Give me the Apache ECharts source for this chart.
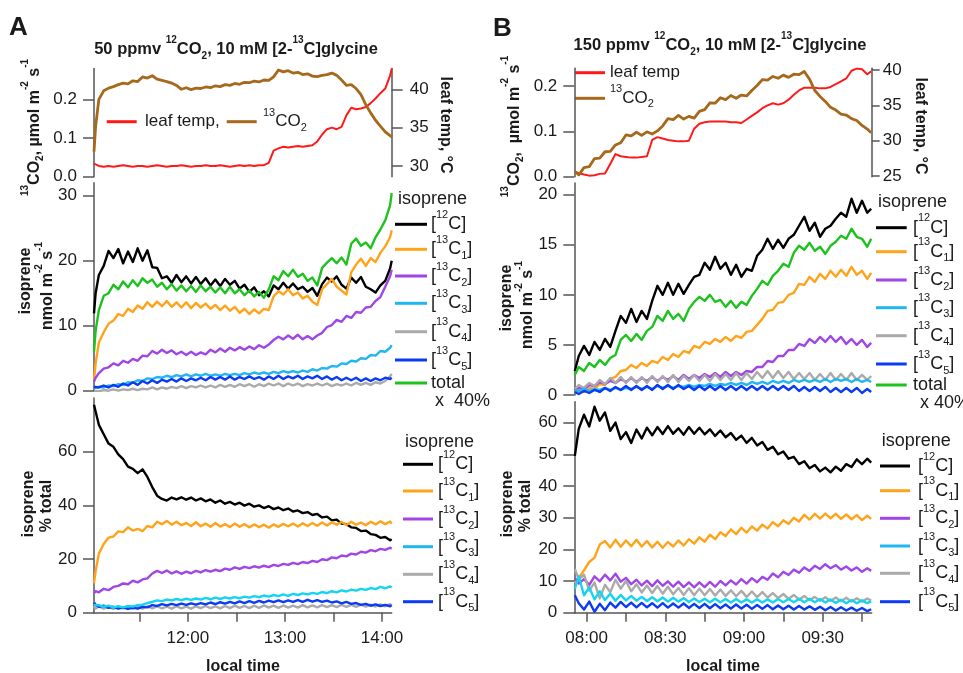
<!DOCTYPE html>
<html>
<head>
<meta charset="utf-8">
<script src="https://cdn.jsdelivr.net/npm/echarts@6.0.0/dist/echarts.min.js"></script>
<style>
  html, body { margin: 0; padding: 0; background: #ffffff; }
  #chart { width: 963px; height: 673px; }
</style>
</head>
<body>
<div id="chart"></div>
<script>
// ---------- Panel A: 50 ppmv 12CO2, local time in minutes after midnight ----------
const timeA = [
  662, 663, 665, 668, 671, 674, 677, 680,
  683, 686, 689, 692, 695, 698, 701, 704,
  707, 710, 713, 716, 719, 722, 725, 728,
  731, 734, 737, 740, 743, 746, 749, 752,
  755, 758, 761, 764, 767, 770, 773, 776,
  779, 782, 785, 788, 791, 794, 797, 800,
  803, 806, 809, 812, 815, 818, 821, 824,
  827, 830, 833, 836, 839, 842, 845, 846
];
const co2A = [
  0.065, 0.130, 0.200, 0.222, 0.229, 0.233, 0.238, 0.242,
  0.240, 0.248, 0.246, 0.258, 0.255, 0.261, 0.252, 0.249,
  0.246, 0.242, 0.236, 0.226, 0.230, 0.225, 0.229, 0.228,
  0.232, 0.230, 0.235, 0.233, 0.238, 0.236, 0.241, 0.239,
  0.244, 0.243, 0.247, 0.245, 0.250, 0.249, 0.258, 0.276,
  0.271, 0.274, 0.268, 0.270, 0.264, 0.266, 0.260, 0.259,
  0.262, 0.264, 0.268, 0.262, 0.250, 0.236, 0.238, 0.228,
  0.212, 0.186, 0.165, 0.146, 0.131, 0.116, 0.106, 0.103
];
const leafA = [
  30.3, 30.1, 30.0, 29.9, 30.0, 29.9, 30.0, 30.1,
  30.0, 29.9, 30.0, 30.0, 29.9, 30.0, 30.1, 30.0,
  29.9, 30.0, 30.0, 30.1, 30.0, 29.9, 30.0, 30.0,
  30.1, 30.0, 30.0, 30.1, 30.0, 29.9, 30.0, 30.1,
  30.0, 30.1, 30.0, 30.1, 30.1, 30.4, 32.0, 32.3,
  32.5, 32.4, 32.5, 32.6, 32.5, 32.6, 32.7, 33.2,
  34.1, 34.8, 35.0, 34.8, 35.1, 36.6, 37.6, 37.4,
  37.5, 37.7, 38.2, 38.8, 39.5, 40.1, 41.8, 42.7
];
// isoprene emission, nmol m-2 s-1
const isoA_12C = [
  11.9, 15.0, 17.8, 19.2, 21.5, 20.4, 21.8, 19.6,
  21.4, 19.8, 21.9, 20.0, 21.6, 19.0, 18.9, 17.3,
  17.6, 16.6, 17.8, 16.7, 17.6, 16.5, 17.5, 16.4,
  17.3, 16.2, 17.1, 16.1, 17.2, 16.3, 16.9, 15.7,
  16.3, 15.2, 15.9, 14.7, 15.3, 14.5, 16.2, 15.6,
  16.6, 15.7, 16.5, 15.6, 16.0, 15.2, 15.8, 14.6,
  16.4, 17.4, 16.8, 17.6, 16.3, 15.7, 17.4, 16.6,
  17.5, 16.0, 15.6, 15.1, 16.2, 16.9, 18.8, 20.0
];
const isoA_13C1 = [
  1.6, 4.2, 7.4, 9.0, 10.3, 10.8, 11.8, 11.5,
  12.6, 12.1, 13.1, 12.6, 13.6, 12.9, 13.7, 13.0,
  13.8, 12.9, 13.6, 12.8, 13.6, 12.7, 13.5, 12.8,
  13.4, 12.6, 13.2, 12.4, 13.1, 12.3, 12.9, 12.0,
  12.6, 11.8, 12.5, 11.9, 12.6, 12.4, 14.5, 15.3,
  14.8, 15.6, 14.7, 15.1, 14.2, 14.6, 13.7, 13.2,
  15.6, 16.4, 17.2, 16.0, 15.4, 14.8, 18.2, 19.4,
  20.3, 19.2, 20.4, 19.8, 21.2, 22.2, 23.6, 24.7
];
const isoA_13C2 = [
  1.4, 2.0, 2.7, 3.4, 3.6, 4.2, 3.9, 4.6,
  4.3, 4.9, 4.6, 5.4, 5.3, 6.1, 5.7, 6.3,
  5.8, 6.2, 5.6, 6.0, 5.5, 6.0, 5.5, 5.9,
  5.6, 6.3, 5.9, 6.5, 6.0, 6.6, 6.2, 6.7,
  6.3, 6.8, 6.4, 7.0, 6.6, 7.1, 7.8, 8.3,
  7.9, 8.5, 8.0, 8.6, 7.9, 8.4, 7.9, 8.5,
  8.9, 9.8, 10.1, 10.9, 10.6, 11.5, 11.2, 12.1,
  12.0, 12.8, 12.9, 13.8, 14.4, 16.0, 17.6, 18.6
];
const isoA_13C3 = [
  0.4, 0.5, 0.6, 0.5, 0.8, 0.7, 1.0, 0.9,
  1.3, 1.2, 1.6, 1.5, 1.9, 1.8, 2.1, 2.0,
  2.3, 2.1, 2.4, 2.2, 2.5, 2.2, 2.5, 2.3,
  2.6, 2.3, 2.5, 2.3, 2.6, 2.4, 2.6, 2.4,
  2.7, 2.5, 2.8, 2.6, 2.8, 2.6, 2.9, 2.7,
  3.0, 2.8, 3.0, 2.8, 3.1, 2.9, 3.3, 3.1,
  3.5, 3.4, 3.8, 3.7, 4.2, 4.1, 4.6, 4.5,
  5.0, 4.9, 5.5, 5.4, 6.1, 6.0, 6.6, 7.0
];
const isoA_13C4 = [
  0.0, 0.1, -0.1, 0.1, 0.0, 0.2, 0.0, 0.2,
  0.1, 0.3, 0.1, 0.3, 0.2, 0.5, 0.2, 0.5,
  0.3, 0.6, 0.4, 0.7, 0.4, 0.7, 0.5, 0.8,
  0.5, 0.8, 0.5, 0.9, 0.6, 0.9, 0.6, 1.0,
  0.7, 1.0, 0.6, 1.0, 0.7, 1.1, 0.8, 1.1,
  0.7, 1.1, 0.8, 1.1, 0.7, 1.0, 0.8, 1.1,
  0.8, 1.1, 0.7, 1.0, 0.8, 1.1, 0.8, 1.2,
  0.9, 1.2, 0.9, 1.3, 1.1, 1.5, 2.2, 2.6
];
const isoA_13C5 = [
  0.6, 0.9, 0.5, 0.8, 0.5, 0.9, 0.6, 1.1,
  0.8, 1.3, 0.9, 1.5, 1.1, 1.6, 1.2, 1.7,
  1.4, 1.8, 1.4, 1.9, 1.5, 1.9, 1.6, 2.0,
  1.6, 2.1, 1.7, 2.1, 1.7, 2.2, 1.7, 2.1,
  1.8, 2.2, 1.8, 2.1, 1.7, 2.2, 1.8, 2.3,
  1.8, 2.2, 1.9, 2.3, 1.8, 2.2, 1.9, 2.3,
  1.8, 2.2, 1.7, 2.1, 1.6, 2.0, 1.6, 2.0,
  1.5, 1.9, 1.5, 1.9, 1.6, 2.0, 1.8, 2.0
];
const isoA_total40 = [
  6.0, 9.2, 12.4, 14.6, 15.0, 16.3, 15.6, 16.8,
  15.9, 17.0, 16.1, 17.3, 16.6, 17.1, 16.0, 16.6,
  15.6, 16.4, 15.4, 16.2, 15.3, 16.1, 15.2, 16.2,
  15.3, 16.0, 15.1, 15.9, 15.0, 16.0, 15.0, 15.6,
  14.7, 15.4, 14.5, 15.2, 14.3, 15.6, 17.6, 17.0,
  18.4, 17.6, 18.6, 17.5, 18.0, 16.9, 17.4, 16.2,
  18.9, 19.7, 20.4, 19.6, 20.5, 19.4, 22.6, 23.4,
  22.3, 22.8, 21.9, 23.6, 24.8, 26.2, 28.5, 30.4
];
// isotopologue share of total isoprene, %
const pctA_12C = [
  77.5, 75.0, 70.0, 66.5, 63.0, 61.8, 59.0, 57.2,
  54.4, 53.6, 52.0, 53.4, 50.6, 46.8, 43.6, 42.4,
  41.8, 42.9, 42.2, 43.0, 42.1, 42.9, 41.8, 42.6,
  41.5, 42.2, 41.0, 41.8, 40.6, 41.3, 40.3, 41.0,
  39.9, 40.6, 39.5, 40.0, 39.0, 39.7, 38.6, 39.2,
  38.2, 38.8, 37.7, 38.1, 37.1, 37.5, 36.4, 36.8,
  35.5, 35.8, 34.4, 34.7, 33.2, 33.0, 31.8, 31.6,
  30.4, 30.6, 29.3, 29.0, 27.9, 28.2, 27.0, 27.4
];
const pctA_13C1 = [
  10.9, 15.5, 22.0, 25.6, 28.0, 28.4, 30.3, 30.0,
  31.8, 30.6, 31.2, 30.4, 32.3, 31.8, 33.9, 33.0,
  34.2, 32.8, 33.9, 32.6, 33.4, 32.3, 33.7, 32.2,
  33.2, 32.0, 33.4, 32.1, 33.0, 31.9, 33.2, 32.0,
  33.0, 31.8, 32.9, 31.9, 32.8, 31.7, 32.9, 32.0,
  33.1, 32.2, 33.2, 32.1, 33.3, 32.3, 33.4, 32.4,
  33.6, 32.5, 33.7, 32.8, 33.8, 32.7, 33.9, 32.8,
  33.6, 32.6, 33.9, 32.9, 34.1, 33.0, 34.0, 33.2
];
const pctA_13C2 = [
  7.2, 8.0, 7.6, 8.9, 8.4, 9.6, 10.0, 10.9,
  10.6, 11.9, 11.3, 12.4, 12.8, 14.6, 15.6, 14.8,
  15.7, 14.6, 15.4, 14.5, 15.3, 14.7, 15.6, 15.0,
  15.9, 15.3, 16.0, 15.5, 16.4, 16.0, 16.9, 16.3,
  17.1, 16.6, 17.3, 16.8, 17.5, 17.0, 17.8, 17.4,
  18.2, 17.8, 18.6, 18.1, 18.9, 18.5, 19.3, 18.9,
  19.9, 19.6, 20.6, 20.3, 21.3, 21.0, 22.0, 21.7,
  22.7, 22.4, 23.3, 22.9, 23.8, 23.4, 24.2, 23.8
];
const pctA_13C3 = [
  2.9, 2.5, 2.8, 2.2, 2.6, 2.0, 2.4, 2.0,
  2.5, 2.3, 2.8, 3.0, 3.6, 4.0, 4.6, 4.3,
  4.9, 4.6, 5.1, 4.7, 5.2, 4.8, 5.3, 4.9,
  5.5, 5.0, 5.6, 5.1, 5.7, 5.3, 5.8, 5.4,
  6.0, 5.6, 6.2, 5.8, 6.4, 6.0, 6.6, 6.2,
  6.8, 6.3, 7.0, 6.6, 7.2, 6.8, 7.4, 7.0,
  7.7, 7.3, 8.0, 7.6, 8.3, 7.9, 8.6, 8.2,
  8.9, 8.5, 9.2, 8.8, 9.6, 9.1, 9.8, 9.4
];
const pctA_13C4 = [
  2.4, 1.6, 2.3, 1.5, 2.2, 1.4, 2.3, 1.5,
  2.2, 1.4, 2.3, 1.5, 2.4, 1.6, 2.4, 1.6,
  2.3, 1.5, 2.4, 1.6, 2.3, 1.5, 2.4, 1.7,
  2.5, 1.7, 2.4, 1.6, 2.5, 1.7, 2.6, 1.8,
  2.5, 1.7, 2.6, 1.8, 2.7, 1.9, 2.6, 1.8,
  2.7, 1.9, 2.6, 1.9, 2.8, 2.0, 2.7, 2.0,
  2.8, 2.1, 2.8, 2.1, 2.9, 2.2, 2.9, 2.2,
  3.0, 2.3, 3.0, 2.3, 3.1, 2.4, 3.2, 2.6
];
const pctA_13C5 = [
  3.8, 3.0, 2.2, 2.6, 1.8, 2.2, 1.5, 2.0,
  1.4, 1.9, 1.5, 2.2, 2.0, 2.8, 2.5, 3.2,
  2.7, 3.3, 2.8, 3.4, 2.9, 3.5, 3.0, 3.6,
  3.1, 3.8, 3.2, 3.9, 3.4, 4.0, 3.5, 4.2,
  3.6, 4.3, 3.7, 4.4, 3.8, 4.5, 3.9, 4.6,
  3.9, 4.6, 4.0, 4.7, 4.0, 4.8, 4.1, 4.7,
  4.0, 4.5, 3.8, 4.2, 3.5, 4.0, 3.3, 3.6,
  2.9, 3.3, 2.6, 3.1, 2.5, 2.9, 2.4, 2.8
];

// ---------- Panel B: 150 ppmv 12CO2 ----------
const timeB = [
  475.5, 477, 479, 481, 483, 485, 487, 489,
  491, 493, 495, 497, 499, 501, 503, 505,
  507, 509, 511, 513, 515, 517, 519, 521,
  523, 525, 527, 529, 531, 533, 535, 537,
  539, 541, 543, 545, 547, 549, 551, 553,
  555, 557, 559, 561, 563, 565, 567, 569,
  571, 573, 575, 577, 579, 581, 583, 585,
  587, 588.5
];
const co2B = [
  0.012, 0.004, 0.020, 0.022, 0.040, 0.041, 0.055, 0.056,
  0.070, 0.075, 0.092, 0.090, 0.098, 0.091, 0.099, 0.094,
  0.101, 0.112, 0.128, 0.126, 0.135, 0.127, 0.133, 0.129,
  0.144, 0.148, 0.163, 0.162, 0.174, 0.170, 0.179, 0.173,
  0.180, 0.178, 0.190, 0.201, 0.214, 0.213, 0.221, 0.217,
  0.224, 0.219, 0.226, 0.225, 0.232, 0.215, 0.190, 0.177,
  0.166, 0.153, 0.147, 0.138, 0.136, 0.128, 0.124, 0.113,
  0.105, 0.097
];
const leafB = [
  25.6, 25.4, 25.2, 25.05, 25.1, 25.3, 25.35, 26.7,
  28.1, 27.8, 27.7, 27.6, 27.6, 27.7, 27.8, 30.1,
  30.5, 30.3, 30.1, 30.0, 29.9, 29.9, 30.0, 31.7,
  32.4, 32.6, 32.7, 32.7, 32.7, 32.7, 32.6, 32.6,
  32.5, 33.0, 33.5, 34.0, 34.6, 35.0, 35.3, 35.1,
  35.3, 35.8, 36.5, 37.1, 37.5, 37.5, 37.5, 37.4,
  37.4, 37.6, 38.0, 38.4, 38.8, 39.9, 40.2, 40.1,
  39.4, 39.8
];
const isoB_12C = [
  2.4, 3.9, 4.9, 4.0, 5.3, 4.5, 5.6, 4.8,
  6.4, 7.9, 7.2, 8.6, 7.3, 8.4, 7.6, 9.4,
  10.9, 10.0, 11.2, 10.0, 11.1, 10.1, 11.0, 11.8,
  12.0, 13.2, 12.5, 13.8, 12.6, 13.2, 12.0, 13.0,
  11.8, 12.6, 12.4, 13.9, 14.5, 15.6, 14.6, 15.5,
  14.7, 15.6, 16.0, 16.9, 17.8, 16.4, 17.2, 15.8,
  16.6, 16.9, 17.6, 18.2, 17.8, 19.6, 18.2, 19.4,
  18.2, 18.6
];
const isoB_13C1 = [
  0.2, 0.4, 0.3, 0.7, 0.6, 1.1, 1.0, 1.6,
  1.8, 2.4, 2.5, 3.0, 2.7, 3.2, 2.9, 3.4,
  3.2, 3.8, 3.5, 4.1, 3.8, 4.4, 4.2, 4.9,
  4.7, 5.3, 5.1, 5.6, 5.3, 5.8, 5.4, 5.9,
  5.7, 6.3, 6.4, 7.0, 7.6, 8.4, 8.5, 9.2,
  9.3, 10.0, 10.2, 11.1, 11.0, 11.8, 11.3, 12.1,
  11.6, 12.4, 11.8, 12.5, 11.9, 12.8, 12.0, 12.4,
  11.6, 12.2
];
const isoB_13C2 = [
  0.5, 0.7, 0.6, 1.0, 0.9, 1.3, 1.1, 1.4,
  1.2, 1.6, 1.3, 1.7, 1.3, 1.7, 1.4, 1.8,
  1.4, 1.8, 1.5, 1.9, 1.5, 2.0, 1.6, 2.0,
  1.7, 2.1, 1.8, 2.2, 1.8, 2.3, 1.9, 2.3,
  2.0, 2.4, 2.3, 2.8, 2.8, 3.4, 3.3, 3.9,
  3.9, 4.5, 4.5, 5.1, 4.9, 5.6, 5.2, 5.8,
  5.3, 5.9, 5.3, 5.8, 5.1, 5.6, 5.0, 5.5,
  4.8, 5.2
];
const isoB_13C3 = [
  0.5, 0.4, 0.6, 0.4, 0.6, 0.5, 0.7, 0.5,
  0.7, 0.5, 0.7, 0.6, 0.8, 0.6, 0.8, 0.6,
  0.9, 0.7, 0.9, 0.7, 0.9, 0.8, 1.0, 0.8,
  1.0, 0.9, 1.1, 0.9, 1.1, 1.0, 1.2, 1.0,
  1.2, 1.0, 1.3, 1.1, 1.3, 1.1, 1.4, 1.2,
  1.4, 1.2, 1.5, 1.3, 1.5, 1.3, 1.5, 1.3,
  1.6, 1.3, 1.6, 1.4, 1.6, 1.3, 1.6, 1.3,
  1.5, 1.3
];
const isoB_13C4 = [
  0.6, 1.0, 0.7, 1.2, 0.9, 1.5, 1.1, 1.7,
  1.2, 1.8, 1.2, 1.8, 1.2, 1.8, 1.2, 1.9,
  1.3, 1.9, 1.3, 2.0, 1.3, 1.9, 1.4, 2.0,
  1.4, 2.0, 1.4, 2.1, 1.5, 2.1, 1.5, 2.2,
  1.5, 2.2, 1.6, 2.3, 1.7, 2.4, 1.7, 2.4,
  1.7, 2.3, 1.6, 2.2, 1.6, 2.2, 1.5, 2.1,
  1.5, 2.2, 1.5, 2.1, 1.5, 2.2, 1.5, 2.0,
  1.5, 1.9
];
const isoB_13C5 = [
  0.3, 0.1, 0.4, 0.2, 0.5, 0.3, 0.7, 0.4,
  0.8, 0.5, 0.9, 0.5, 0.9, 0.5, 0.9, 0.5,
  1.0, 0.6, 1.0, 0.6, 1.0, 0.6, 0.9, 0.5,
  0.9, 0.5, 0.9, 0.5, 0.9, 0.5, 0.9, 0.5,
  0.9, 0.5, 0.9, 0.5, 0.9, 0.5, 0.9, 0.5,
  0.9, 0.5, 0.9, 0.4, 0.8, 0.4, 0.8, 0.4,
  0.8, 0.3, 0.7, 0.3, 0.7, 0.3, 0.7, 0.2,
  0.6, 0.3
];
const isoB_total40 = [
  2.0, 2.8, 2.4, 3.2, 2.8, 3.5, 3.0, 3.7,
  4.0, 5.5, 6.0, 5.4, 6.1, 5.5, 6.4, 6.8,
  7.9, 7.4, 8.4, 7.6, 8.1, 7.4, 8.6, 9.3,
  9.8, 9.4, 10.0, 9.3, 9.5, 8.8, 9.4, 8.7,
  9.3, 9.0, 9.9, 10.6, 11.4, 11.0, 11.9, 12.4,
  13.1, 12.8, 14.2, 14.9, 14.5, 15.2, 14.4, 14.8,
  14.1, 14.9, 15.3, 15.9, 15.6, 16.6, 15.8, 15.6,
  14.8, 15.6
];
const pctB_12C = [
  49.5, 58.0, 62.5, 58.8, 65.0, 60.6, 63.2, 57.4,
  60.0, 54.8, 57.0, 53.6, 57.8, 55.0, 58.4, 56.0,
  58.6, 56.4, 58.9, 56.5, 58.2, 56.2, 58.6, 56.5,
  58.4, 56.3, 57.9, 55.8, 57.5, 55.4, 56.7, 54.6,
  55.9, 53.6, 55.2, 52.8, 53.9, 51.4, 52.4, 50.0,
  50.9, 48.6, 49.2, 46.9, 47.8, 45.6, 46.6, 44.6,
  45.8, 44.3, 46.1, 44.8, 46.9, 46.0, 48.4, 46.9,
  48.6, 47.4
];
const pctB_13C1 = [
  9.3, 11.0, 13.4, 16.0, 17.4, 21.5, 22.6, 20.6,
  23.0, 20.8, 22.8, 21.0, 23.0, 20.9, 22.6, 20.6,
  22.4, 20.5, 22.3, 20.9, 22.8, 21.2, 23.2, 21.8,
  23.8, 22.4, 24.6, 23.2, 25.4, 24.2, 26.3, 24.8,
  26.8, 25.3, 27.2, 25.9, 27.8, 26.6, 28.6, 27.3,
  29.2, 28.0, 30.0, 28.8, 30.9, 29.4, 31.2, 29.7,
  31.3, 29.8, 31.2, 29.6, 31.0, 29.5, 30.8, 29.2,
  30.6, 29.6
];
const pctB_13C2 = [
  11.0, 9.2, 10.6, 8.8, 11.5, 9.9, 12.0, 10.2,
  12.3, 9.8, 11.0, 9.0, 10.4, 8.6, 10.1, 8.4,
  10.2, 8.5, 9.9, 8.2, 9.8, 8.1, 9.6, 8.0,
  9.6, 8.1, 9.7, 8.2, 10.0, 8.6, 10.2, 8.9,
  10.6, 9.2, 10.9, 9.6, 11.3, 10.4, 12.4, 11.2,
  12.9, 11.9, 13.6, 12.6, 14.3, 13.2, 14.8, 13.8,
  15.3, 14.0, 15.0, 13.6, 14.6, 13.3, 14.3, 12.9,
  14.0, 13.2
];
const pctB_13C3 = [
  7.5, 11.5, 5.5, 8.0, 4.2, 6.8, 4.0, 6.0,
  3.8, 5.6, 3.9, 5.3, 3.8, 5.0, 3.7, 4.9,
  3.6, 4.8, 3.5, 4.7, 3.5, 4.6, 3.4, 4.5,
  3.4, 4.4, 3.3, 4.4, 3.3, 4.3, 3.2, 4.3,
  3.2, 4.2, 3.2, 4.2, 3.2, 4.2, 3.2, 4.3,
  3.3, 4.3, 3.3, 4.4, 3.3, 4.4, 3.3, 4.3,
  3.2, 4.2, 3.1, 4.1, 3.0, 4.0, 3.0, 3.9,
  3.0, 3.6
];
const pctB_13C4 = [
  13.8, 10.5, 12.0, 7.0, 9.5, 4.5, 8.8, 6.5,
  10.4, 7.6, 10.0, 6.8, 9.0, 6.4, 8.6, 6.2,
  8.4, 6.0, 8.2, 5.8, 7.8, 5.6, 7.7, 5.5,
  7.6, 5.5, 7.5, 5.4, 7.3, 5.3, 7.1, 5.2,
  6.9, 5.0, 6.7, 4.9, 6.5, 4.8, 6.2, 4.6,
  5.9, 4.4, 5.6, 4.1, 5.3, 3.9, 5.0, 3.8,
  4.9, 3.7, 4.8, 3.6, 4.7, 3.5, 4.6, 3.5,
  4.5, 3.8
];
const pctB_13C5 = [
  5.5, 3.0, 1.0, 3.5, 0.3, 2.8, 0.8, 3.2,
  1.6, 3.4, 1.8, 3.2, 1.7, 3.1, 1.7, 3.0,
  1.6, 3.0, 1.6, 2.9, 1.6, 2.9, 1.5, 2.8,
  1.5, 2.8, 1.4, 2.7, 1.4, 2.6, 1.3, 2.6,
  1.3, 2.5, 1.2, 2.4, 1.2, 2.4, 1.1, 2.3,
  1.1, 2.2, 1.0, 2.1, 1.0, 2.0, 0.9, 1.9,
  0.8, 1.8, 0.7, 1.7, 0.7, 1.6, 0.6, 1.5,
  0.5, 1.1
];

// Axis tick positions
const ticksA_time = [690, 720, 750, 780, 810, 840];
const labelsA_time = [720, 780, 840];
const ticksB_time = [480, 495, 510, 525, 540, 555, 570, 585];
const labelsB_time = [480, 510, 540, 570];
const ticksCO2 = [0, 0.1, 0.2];
const ticksLeafA = [30, 35, 40];
const ticksLeafB = [25, 30, 35, 40];
const ticksIsoA = [0, 10, 20, 30];
const ticksIsoB = [0, 5, 10, 15, 20];
const ticksPctA = [0, 20, 40, 60];
const ticksPctB = [0, 10, 20, 30, 40, 50, 60];

// ---------- styling ----------
const FONT = '"Liberation Sans", Arial, Helvetica, sans-serif';
const INK = '#1a1a1a';
const AXIS = '#555555';
const C = {
  c12: '#000000', c1: '#ffa31a', c2: '#a045e6', c3: '#1fb6f2', c3b: '#14d4f0',
  c4: '#aaaaaa', c5: '#0b3bf5', tot: '#1ec21e', co2: '#a6681a', leaf: '#ff1a1a'
};

const pairs = (t, v) => t.map((x, i) => [x, v[i]]);
const clock = m => {
  const h = Math.floor(m / 60), mm = Math.round(m % 60);
  return (h < 10 ? '0' : '') + h + ':' + (mm < 10 ? '0' : '') + mm;
};

const grids = [
  { left: 94, top: 68.4, width: 297.7, height: 108.3 },
  { left: 94, top: 182.7, width: 297.7, height: 208 },
  { left: 94, top: 398, width: 297.7, height: 214.7 },
  { left: 574.3, top: 68.3, width: 297.4, height: 108.4 },
  { left: 574.3, top: 183, width: 297.4, height: 212 },
  { left: 574.3, top: 401.7, width: 297.4, height: 211 }
];

function xAx(grid, min, max, ticks, labels) {
  if (!ticks) return { type: 'value', gridIndex: grid, min, max, show: false };
  return {
    type: 'value', gridIndex: grid, min, max, position: 'bottom',
    axisLine: { show: true, onZero: false, lineStyle: { color: AXIS, width: 1.5 } },
    axisTick: { show: true, length: 9, customValues: ticks, lineStyle: { color: AXIS, width: 1.5 } },
    axisLabel: { show: true, customValues: labels, formatter: clock, margin: 17,
      fontSize: 17, fontFamily: FONT, color: INK },
    splitLine: { show: false }
  };
}
function yAx(grid, min, max, ticks, fmt, pos, margin, tickLen) {
  return {
    type: 'value', gridIndex: grid, min, max, position: pos || 'left',
    axisLine: { show: true, onZero: false, lineStyle: { color: AXIS, width: 1.5 } },
    axisTick: { show: true, length: tickLen || 11, customValues: ticks, lineStyle: { color: AXIS, width: 1.5 } },
    axisLabel: { show: true, customValues: ticks, formatter: fmt || (v => String(v)),
      margin: margin || 17, fontSize: 17, fontFamily: FONT, color: INK },
    splitLine: { show: false }
  };
}

function line(xi, yi, t, v, color, width) {
  return {
    type: 'line', xAxisIndex: xi, yAxisIndex: yi, data: pairs(t, v),
    showSymbol: false, symbol: 'none', silent: true,
    lineStyle: { color, width: width || 2.4, join: 'round' }, itemStyle: { color }
  };
}

// rich text: normal, superscript and subscript runs
function richSet(F, weight) {
  const s = Math.round(F * 0.62);
  const base = { fontFamily: FONT, fontWeight: weight, fill: INK, verticalAlign: 'top' };
  return {
    n: Object.assign({ fontSize: F, padding: [Math.round(F * 0.45), 0, 0, 0] }, base),
    sup: Object.assign({ fontSize: s, padding: [Math.round(F * 0.09), 0, 0, 0] }, base),
    sub: Object.assign({ fontSize: s, padding: [Math.round(F * 1.0), 0, 0, 0] }, base)
  };
}
// place a rich string so that the middle of its normal-size run sits on (x, y)
function txt(str, x, y, F, opts) {
  opts = opts || {};
  const weight = opts.weight || 'normal';
  const off = Math.round(F * 0.45) + F / 2;
  return {
    type: 'group', x, y, rotation: opts.rotation || 0, silent: true,
    children: [{
      type: 'text', x: 0, y: -off,
      style: {
        text: str, rich: richSet(F, weight), fontFamily: FONT, fontSize: F,
        fontWeight: weight, fill: INK, align: opts.align || 'left', verticalAlign: 'top'
      }
    }]
  };
}
function seg(x1, x2, y, color) {
  return { type: 'line', silent: true, shape: { x1, y1: y, x2, y2: y },
    style: { stroke: color, lineWidth: 3 } };
}

const lbl12 = '{n|[}{sup|12}{n|C]}';
const lbl13 = k => '{n|[}{sup|13}{n|C}{sub|' + k + '}{n|]}';
const legendColors = [C.c12, C.c1, C.c2, C.c3, C.c4, C.c5];
const legendLabels = [lbl12, lbl13(1), lbl13(2), lbl13(3), lbl13(4), lbl13(5)];

function isoLegend(hx, hy, x1, x2, tx, ys, totText, totX, totY) {
  const out = [txt('{n|isoprene}', hx, hy, 18)];
  ys.forEach((y, i) => {
    if (i < 6) {
      out.push(seg(x1, x2, y, legendColors[i]));
      out.push(txt(legendLabels[i], tx, y, 18));
    } else {
      out.push(seg(x1, x2, y, C.tot));
      out.push(txt('{n|total}', tx, y, 18));
      out.push(txt('{n|' + totText + '}', totX, totY, 18));
    }
  });
  return out;
}

const P2 = Math.PI / 2;
const graphics = [
  txt('{n|A}', 9, 27.5, 26, { weight: 'bold' }),
  txt('{n|B}', 493, 28.5, 26, { weight: 'bold' }),
  txt('{n|50 ppmv }{sup|12}{n|CO}{sub|2}{n|, 10 mM [2-}{sup|13}{n|C]glycine}', 236, 49, 16.5, { weight: 'bold', align: 'center' }),
  txt('{n|150 ppmv }{sup|12}{n|CO}{sub|2}{n|, 10 mM [2-}{sup|13}{n|C]glycine}', 720, 45, 16.5, { weight: 'bold', align: 'center' }),
  // left axis titles
  txt('{sup|13}{n|CO}{sub|2}{n|, µmol m}{sup|-2}{n| s}{sup|-1}', 34.5, 127.5, 16, { weight: 'bold', align: 'center', rotation: P2 }),
  txt('{sup|13}{n|CO}{sub|2}{n|,  µmol m}{sup|-2}{n| s}{sup|-1}', 514.5, 126.5, 16, { weight: 'bold', align: 'center', rotation: P2 }),
  txt('{n|isoprene}', 26, 281, 16, { weight: 'bold', align: 'center', rotation: P2 }),
  txt('{n|nmol m}{sup|-2}{n| s}{sup|-1}', 48, 286, 16, { weight: 'bold', align: 'center', rotation: P2 }),
  txt('{n|isoprene}', 29, 504, 16, { weight: 'bold', align: 'center', rotation: P2 }),
  txt('{n|% total}', 47, 506, 16, { weight: 'bold', align: 'center', rotation: P2 }),
  txt('{n|isoprene}', 507, 298, 16, { weight: 'bold', align: 'center', rotation: P2 }),
  txt('{n|nmol m}{sup|-2}{n| s}{sup|-1}', 528, 305, 16, { weight: 'bold', align: 'center', rotation: P2 }),
  txt('{n|isoprene}', 508, 504, 16, { weight: 'bold', align: 'center', rotation: P2 }),
  txt('{n|% total}', 526, 506, 16, { weight: 'bold', align: 'center', rotation: P2 }),
  // right axis titles
  txt('{n|leaf temp, °C}', 445, 125, 16, { weight: 'bold', align: 'center', rotation: -P2 }),
  txt('{n|leaf temp, °C}', 920, 126, 16, { weight: 'bold', align: 'center', rotation: -P2 }),
  // time axis titles
  txt('{n|local time}', 243, 667, 16, { weight: 'bold', align: 'center' }),
  txt('{n|local time}', 723, 667, 16, { weight: 'bold', align: 'center' }),
  // CO2 / leaf temperature legends
  seg(106.7, 136.7, 121.7, C.leaf), txt('{n|leaf temp,}', 145, 121.7, 17),
  seg(226.7, 256.7, 121.7, C.co2), txt('{sup|13}{n|CO}{sub|2}', 263, 121.7, 17),
  seg(575, 605, 72.7, C.leaf), txt('{n|leaf temp}', 610, 72.7, 17),
  seg(575, 605, 98.3, C.co2), txt('{sup|13}{n|CO}{sub|2}', 610, 98.3, 17)
].concat(
  isoLegend(398, 199, 395, 427, 431, [224.3, 249.3, 276, 303.3, 331.7, 360, 383], 'x  40%', 435, 401),
  isoLegend(405, 441.7, 403, 433, 438, [464.3, 491, 519, 546.7, 574.3, 601.7]),
  isoLegend(878, 201.7, 876, 906.7, 913, [227.7, 251.7, 280, 307.7, 335.7, 364, 385], 'x 40%', 920, 403),
  isoLegend(881.7, 440.7, 880, 910, 918, [466, 490.7, 518.3, 546, 573.3, 601.7])
);

const option = {
  backgroundColor: '#ffffff',
  animation: false,
  grid: grids,
  xAxis: [
    xAx(0, 662, 846), xAx(1, 662, 846), xAx(2, 662, 846, ticksA_time, labelsA_time),
    xAx(3, 475.3, 588.7), xAx(4, 475.3, 588.7), xAx(5, 475.3, 588.7, ticksB_time, labelsB_time)
  ],
  yAxis: [
    yAx(0, 0, 0.28, ticksCO2, v => v.toFixed(1)),
    yAx(0, 28.6, 42.73, ticksLeafA, null, 'right', 18, 11),
    yAx(1, 0, 32, ticksIsoA),
    yAx(2, 0, 80, ticksPctA),
    yAx(3, 0, 0.239, ticksCO2, v => v.toFixed(1)),
    yAx(3, 24.9, 40.24, ticksLeafB, null, 'right', 11, 8),
    yAx(4, 0, 21.17, ticksIsoB),
    yAx(5, 0, 66.6, ticksPctB)
  ],
  series: [
    line(0, 1, timeA, leafA, C.leaf, 2),
    line(0, 0, timeA, co2A, C.co2, 2.8),
    line(1, 2, timeA, isoA_12C, C.c12),
    line(1, 2, timeA, isoA_13C1, C.c1),
    line(1, 2, timeA, isoA_13C2, C.c2),
    line(1, 2, timeA, isoA_13C4, C.c4),
    line(1, 2, timeA, isoA_13C3, C.c3),
    line(1, 2, timeA, isoA_13C5, C.c5),
    line(1, 2, timeA, isoA_total40, C.tot),
    line(2, 3, timeA, pctA_12C, C.c12),
    line(2, 3, timeA, pctA_13C1, C.c1),
    line(2, 3, timeA, pctA_13C2, C.c2),
    line(2, 3, timeA, pctA_13C4, C.c4),
    line(2, 3, timeA, pctA_13C5, C.c5),
    line(2, 3, timeA, pctA_13C3, C.c3b),
    line(3, 5, timeB, leafB, C.leaf, 2),
    line(3, 4, timeB, co2B, C.co2, 2.8),
    line(4, 6, timeB, isoB_12C, C.c12),
    line(4, 6, timeB, isoB_13C1, C.c1),
    line(4, 6, timeB, isoB_13C2, C.c2),
    line(4, 6, timeB, isoB_13C4, C.c4),
    line(4, 6, timeB, isoB_13C3, C.c3),
    line(4, 6, timeB, isoB_13C5, C.c5),
    line(4, 6, timeB, isoB_total40, C.tot),
    line(5, 7, timeB, pctB_12C, C.c12),
    line(5, 7, timeB, pctB_13C1, C.c1),
    line(5, 7, timeB, pctB_13C2, C.c2),
    line(5, 7, timeB, pctB_13C4, C.c4),
    line(5, 7, timeB, pctB_13C5, C.c5),
    line(5, 7, timeB, pctB_13C3, C.c3b)
  ],
  graphic: { elements: graphics }
};

const chart = echarts.init(document.getElementById('chart'), null, { renderer: 'canvas' });
chart.setOption(option);
</script>
</body>
</html>
